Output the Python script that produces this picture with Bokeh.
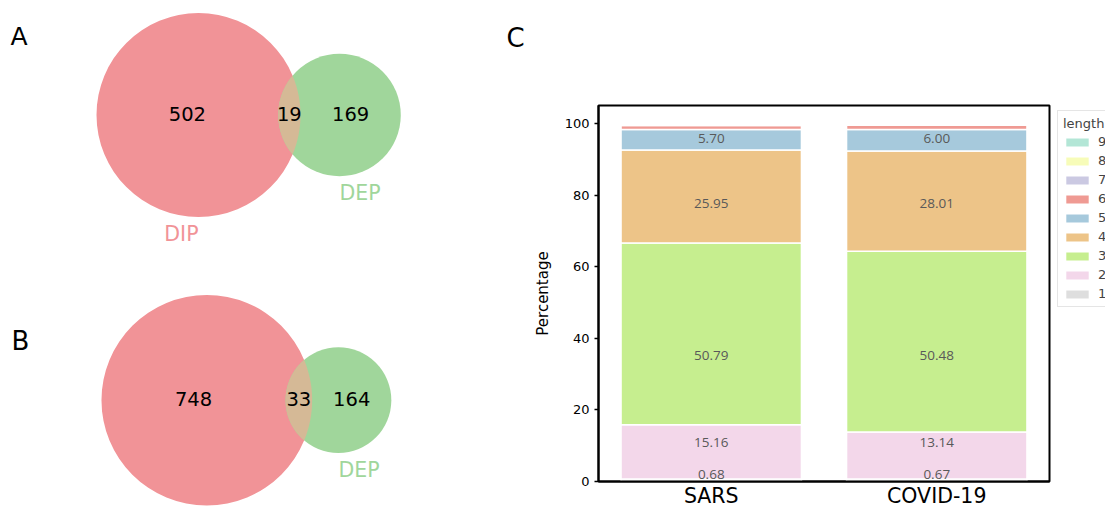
import math
from bokeh.plotting import figure
from bokeh.models import (ColumnDataSource, FactorRange, Range1d, Legend, LegendItem,
                          FixedTicker, Label)
from bokeh.layouts import row, column
from bokeh.core.properties import value
from bokeh.embed import file_html
from bokeh.resources import INLINE

# ---------------- data ----------------
venn_a_counts = [502, 19, 169]      # DIP only, both, DEP only
venn_b_counts = [748, 33, 164]
venn_set_names = ["DIP", "DEP"]

categories = ["SARS", "COVID-19"]
lengths = ["1", "2", "3", "4", "5", "6", "7", "8", "9"]
sars_pct = [0.68, 15.16, 50.79, 25.95, 5.70, 1.16, 0.30, 0.17, 0.08]
covid_pct = [0.67, 13.14, 50.48, 28.01, 6.00, 1.15, 0.30, 0.17, 0.08]
label_pos = [1.95, 10.95, 35.1, 77.7, 95.8]   # label heights
y_ticks = [0, 20, 40, 60, 80, 100]

# ---------------- styles ----------------
FONT = "DejaVu Sans"
COL_A = "#F19397"
COL_B = "#A0D69B"
COL_AB = "#D5B996"
bar_colors = ["#DEDEDE", "#F3D7EA", "#C6EE8F", "#EDC488", "#A6C9DC",
              "#EF9A93", "#CBC9E2", "#F7FCB9", "#B3E6D6"]

TOTAL_W = 1105
TOTAL_H = 510
LEFT_W = 530
VENN_H = 255
LEG_W = 53
C_W = TOTAL_W - LEFT_W - LEG_W


def lens_area(r1, r2, d):
    if d >= r1 + r2:
        return 0.0
    if d <= abs(r1 - r2):
        return math.pi * min(r1, r2) ** 2
    a1 = r1 ** 2 * math.acos((d * d + r1 * r1 - r2 * r2) / (2 * d * r1))
    a2 = r2 ** 2 * math.acos((d * d + r2 * r2 - r1 * r1) / (2 * d * r2))
    a3 = 0.5 * math.sqrt((-d + r1 + r2) * (d + r1 - r2) * (d - r1 + r2) * (d + r1 + r2))
    return a1 + a2 - a3


def solve_d(r1, r2, target):
    lo, hi = abs(r1 - r2) + 1e-9, r1 + r2
    for _ in range(200):
        mid = 0.5 * (lo + hi)
        if lens_area(r1, r2, mid) > target:
            lo = mid
        else:
            hi = mid
    return 0.5 * (lo + hi)


def venn_figure(counts, px_per_unit, center_px, show_a_label):
    only_a, both, only_b = counts
    r1 = math.sqrt((only_a + both) / math.pi)
    r2 = math.sqrt((only_b + both) / math.pi)
    d = solve_d(r1, r2, both)
    s = px_per_unit
    cx, cy = center_px
    p = figure(width=LEFT_W, height=VENN_H, output_backend="svg", toolbar_location=None,
               x_axis_type=None, y_axis_type=None, min_border=0,
               x_range=Range1d(-cx / s, (LEFT_W - cx) / s),
               y_range=Range1d(-(VENN_H - cy) / s, cy / s))
    p.grid.visible = False
    p.outline_line_color = None
    p.background_fill_color = "white"
    p.border_fill_color = "white"

    p.circle(x=[0], y=[0], radius=r1, fill_color=COL_A, line_color=None)
    p.circle(x=[d], y=[0], radius=r2, fill_color=COL_B, line_color=None)

    # lens (intersection)
    xi = (d * d + r1 * r1 - r2 * r2) / (2 * d)
    yi = math.sqrt(max(r1 * r1 - xi * xi, 0))
    t1 = math.atan2(yi, xi)
    t2 = math.atan2(yi, d - xi)
    n = 80
    xs, ys = [], []
    for k in range(n + 1):
        a = -t1 + 2 * t1 * k / n
        xs.append(r1 * math.cos(a)); ys.append(r1 * math.sin(a))
    for k in range(n + 1):
        a = math.pi - t2 + 2 * t2 * k / n
        xs.append(d + r2 * math.cos(a)); ys.append(r2 * math.sin(a))
    p.patch(xs, ys, fill_color=COL_AB, line_color=None)

    # region labels
    xa = ((-r1) + (d - r2)) / 2
    xab = ((d - r2) + r1) / 2
    xb = (r1 + (d + r2)) / 2
    p.text(x=[xa, xab, xb], y=[0, 0, 0], text=[str(c) for c in counts],
           text_font=value(FONT), text_font_size="19.5px", text_color="black",
           text_align="center", text_baseline="middle", y_offset=-1)

    pad = 0.1 * (r1 + r2) / 2
    if show_a_label:
        p.text(x=[0], y=[-r1 - pad], text=[venn_set_names[0]], text_font=value(FONT),
               text_font_size="20.5px", text_color=COL_A, text_align="right",
               text_baseline="top", y_offset=-3)
    p.text(x=[d], y=[-r2 - pad], text=[venn_set_names[1]], text_font=value(FONT),
           text_font_size="20.5px", text_color=COL_B, text_align="left",
           text_baseline="top", y_offset=-3)
    return p


def panel_letter(p, text, x, y, size):
    p.add_layout(Label(x=x, y=y, x_units="screen", y_units="screen",
                       text=text, text_font=FONT, text_font_size=size,
                       text_color="black", text_baseline="alphabetic"))


figA = venn_figure(venn_a_counts, 7.92, (198, 114.5), True)
figB = venn_figure(venn_b_counts, 6.68, (206.3, 144.7), False)
panel_letter(figA, "A", 10, 219, "25px")
panel_letter(figA, "C", 506, 218, "26px")
panel_letter(figB, "B", 11, 170, "26px")

# ---------------- stacked bar chart ----------------
src = ColumnDataSource(data=dict(cat=categories,
                                 **{l: [sars_pct[i], covid_pct[i]] for i, l in enumerate(lengths)}))
pc = figure(width=C_W, height=TOTAL_H, output_backend="svg", toolbar_location=None,
            x_range=FactorRange(factors=categories, range_padding=0),
            y_range=Range1d(0, 105),
            min_border_left=67, min_border_right=3, min_border_top=104, min_border_bottom=29)
pc.grid.visible = False
pc.outline_line_color = "black"
pc.outline_line_width = 2
pc.background_fill_color = "white"
pc.border_fill_color = "white"

rends = pc.vbar_stack(lengths, x="cat", width=0.8, color=bar_colors, source=src,
                      line_color="white", line_width=1.5)

lab_x, lab_y, lab_t = [], [], []
for ci, cat in enumerate(categories):
    vals = sars_pct if ci == 0 else covid_pct
    for i in range(5):
        lab_x.append(cat); lab_y.append(label_pos[i]); lab_t.append("%.2f" % vals[i])
pc.text(x=lab_x, y=lab_y, text=lab_t, text_font=value("Open Sans"), text_font_size="13.5px",
        text_color="#595959", text_align="center", text_baseline="middle")

pc.yaxis.ticker = FixedTicker(ticks=y_ticks)
pc.yaxis.minor_tick_line_color = None
pc.yaxis.major_tick_out = 4
pc.yaxis.major_tick_in = 0
pc.yaxis.major_tick_line_width = 1.5
pc.yaxis.axis_line_width = 2
pc.yaxis.major_label_text_font = FONT
pc.yaxis.major_label_text_font_size = "13px"
pc.yaxis.major_label_text_color = "black"
pc.yaxis.major_label_standoff = 5
pc.yaxis.axis_label = "Percentage"
pc.yaxis.axis_label_text_font = FONT
pc.yaxis.axis_label_text_font_size = "15px"
pc.yaxis.axis_label_text_font_style = "normal"
pc.yaxis.axis_label_text_color = "black"
pc.yaxis.axis_label_standoff = 10

pc.xaxis.major_tick_line_color = None
pc.xaxis.major_tick_out = 0
pc.xaxis.major_tick_in = 0
pc.xaxis.minor_tick_line_color = None
pc.xaxis.minor_tick_out = 0
pc.xaxis.axis_line_width = 2
pc.xaxis.major_label_text_font = FONT
pc.xaxis.major_label_text_font_size = "20.5px"
pc.xaxis.major_label_text_color = "black"
pc.xaxis.major_label_standoff = 2

# ---------------- legend panel ----------------
pl = figure(width=LEG_W, height=TOTAL_H, output_backend="svg", toolbar_location=None,
            x_axis_type=None, y_axis_type=None, min_border=0, min_border_top=105,
            x_range=Range1d(0, 1), y_range=Range1d(0, 1))
pl.grid.visible = False
pl.outline_line_color = None
pl.background_fill_color = "white"
pl.border_fill_color = "white"
# legend proxies: zero-height bars parked outside the visible range
proxy = ColumnDataSource(data=dict(x=[-5.0], top=[0.0]))
leg_rends = [pl.vbar(x="x", top="top", width=0.5, source=proxy, fill_color=c,
                     line_color=None) for c in bar_colors]
items = [LegendItem(label=lengths[i], renderers=[leg_rends[i]]) for i in reversed(range(len(lengths)))]
legend = Legend(items=items, location="top_left", title="length",
                title_text_font=FONT, title_text_font_size="13px", title_text_font_style="normal",
                title_standoff=3,
                label_text_font=FONT, label_text_font_size="13px", label_standoff=7,
                glyph_width=28, glyph_height=10, label_height=15, spacing=4, padding=5,
                border_line_color="#cccccc", border_line_width=1,
                background_fill_color="white", background_fill_alpha=0.9, margin=5)
pl.add_layout(legend, "center")

layout = row(column(figA, figB), pc, pl)
open("out.html", "w").write(file_html(layout, INLINE))
